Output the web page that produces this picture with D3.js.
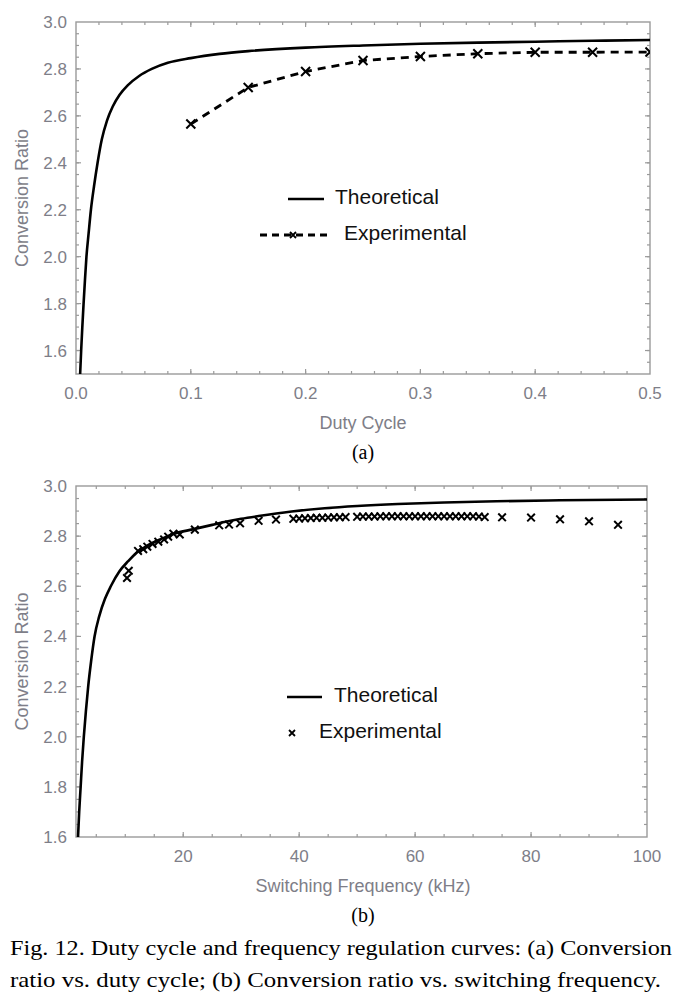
<!DOCTYPE html>
<html><head><meta charset="utf-8">
<script src="https://cdn.jsdelivr.net/npm/d3@7"></script>
<style>body{margin:0;background:#fff} svg{display:block}</style>
</head><body>
<svg id="c" width="684" height="1000"></svg>
<script>
// ---------- DATA ----------
// (a) Conversion ratio vs duty cycle
const dutyTheoX = [0.0036,0.0045,0.0055,0.0066,0.0078,0.0091,0.011,0.013,0.0157,0.0188,0.0225,0.027,0.032,0.038,0.045,0.055,0.066,0.08,0.1,0.125,0.15,0.2,0.25,0.3,0.35,0.4,0.45,0.5];
const dutyTheoY = [1.5,1.6,1.7,1.8,1.9,2.0,2.1,2.2,2.3,2.4,2.5,2.58,2.64,2.69,2.73,2.77,2.8,2.826,2.846,2.864,2.876,2.891,2.9,2.907,2.912,2.916,2.92,2.923];
const dutyExpX = [0.1,0.15,0.2,0.25,0.3,0.35,0.4,0.45,0.5];
const dutyExpY = [2.565,2.721,2.789,2.836,2.853,2.865,2.871,2.871,2.872];
const dutyTicks = [0.0,0.1,0.2,0.3,0.4,0.5];
const dutyTickLabels = ["0.0","0.1","0.2","0.3","0.4","0.5"];
const ratioTicksA = [1.6,1.8,2.0,2.2,2.4,2.6,2.8,3.0];
// (b) Conversion ratio vs switching frequency
const freqTheoX = [1.85,2.05,2.3,2.55,2.85,3.2,3.6,4.1,4.7,5.5,6.5,7.5,9,10.5,12,14,16,18.5,21.6,25,27.3,30,33,38.7,44.4,50,57,65,74,85,100];
const freqTheoY = [1.6,1.7,1.8,1.9,2.0,2.1,2.2,2.3,2.4,2.48,2.55,2.6,2.66,2.7,2.735,2.765,2.787,2.81,2.827,2.845,2.857,2.869,2.88,2.898,2.911,2.92,2.928,2.934,2.939,2.943,2.946];
const freqExpX = [10.3,10.6,12.2,13.1,13.8,14.7,15.7,16.7,17.4,18.3,19.4,22,26.2,27.9,29.8,33,36,
  39,40,41,42,43,44,45,46,47,48,
  50,51,52,53,54,55,56,57,58,59,60,61,62,63,64,65,66,67,68,69,70,71,72,
  75,80,85,90,95];
const freqExpY = [2.633,2.662,2.741,2.748,2.758,2.769,2.778,2.787,2.798,2.81,2.807,2.826,2.843,2.846,2.851,2.861,2.866,
  2.869,2.870,2.871,2.872,2.873,2.873,2.874,2.875,2.875,2.876,
  2.877,2.878,2.878,2.878,2.879,2.879,2.879,2.879,2.879,2.879,2.879,2.879,2.879,2.879,2.879,2.879,2.879,2.879,2.879,2.879,2.879,2.878,2.876,
  2.875,2.874,2.867,2.859,2.845];
const freqTicks = [20,40,60,80,100];
const freqTickLabels = ["20","40","60","80","100"];
const ratioTicksB = [1.6,1.8,2.0,2.2,2.4,2.6,2.8,3.0];
const legendLabels = ["Theoretical","Experimental"];
const captionLines = ["Fig. 12. Duty cycle and frequency regulation curves: (a) Conversion",
                      "ratio vs. duty cycle; (b) Conversion ratio vs. switching frequency."];

// ---------- DRAWING ----------
const svg = d3.select("#c");
const FRAME = "#9a9a9a", LABEL = "#7e7e88", SANS = "'Liberation Sans', Arial, sans-serif", SERIF = "'Liberation Serif','Times New Roman',serif";

function xMark(sel, s, w) {
  return sel.attr("d", `M${-s},${-s}L${s},${s}M${-s},${s}L${s},${-s}`)
    .attr("stroke", "#000").attr("stroke-width", w).attr("fill", "none");
}

function panel(cfg) {
  const x = d3.scaleLinear().domain(cfg.xDom).range([cfg.left, cfg.right]);
  const y = d3.scaleLinear().domain(cfg.yDom).range([cfg.bottom, cfg.top]);
  const g = svg.append("g");
  const id = "clip" + cfg.name;
  svg.append("defs").append("clipPath").attr("id", id).append("rect")
    .attr("x", cfg.left).attr("y", cfg.top).attr("width", cfg.right - cfg.left).attr("height", cfg.bottom - cfg.top);

  const mk = (scale, vals, len, side) => {
    vals.forEach(v => {
      const p = scale(v);
      if (side === "b") g.append("line").attr("x1", p).attr("x2", p).attr("y1", cfg.bottom).attr("y2", cfg.bottom - len);
      if (side === "t") g.append("line").attr("x1", p).attr("x2", p).attr("y1", cfg.top).attr("y2", cfg.top + len);
      if (side === "l") g.append("line").attr("y1", p).attr("y2", p).attr("x1", cfg.left).attr("x2", cfg.left + len);
      if (side === "r") g.append("line").attr("y1", p).attr("y2", p).attr("x1", cfg.right).attr("x2", cfg.right - len);
    });
  };
  const inside = (arr, dom) => arr.filter(v => v > dom[0] + 1e-9 && v < dom[1] - 1e-9);
  const xMaj = inside(cfg.xMajor, cfg.xDom), xMin = inside(cfg.xMinor, cfg.xDom);
  const yMaj = inside(cfg.yMajor, cfg.yDom), yMin = inside(cfg.yMinor, cfg.yDom);
  ["b","t"].forEach(s => { mk(x, xMaj, 5, s); mk(x, xMin, 3, s); });
  ["l","r"].forEach(s => { mk(y, yMaj, 5, s); mk(y, yMin, 3, s); });
  g.selectAll("line").attr("stroke", FRAME).attr("stroke-width", 1.2);
  g.append("rect").attr("x", cfg.left).attr("y", cfg.top).attr("width", cfg.right - cfg.left).attr("height", cfg.bottom - cfg.top)
    .attr("fill", "none").attr("stroke", FRAME).attr("stroke-width", 1.4);

  g.selectAll(".xl").data(cfg.xTicks).enter().append("text")
    .attr("x", (d) => x(d)).attr("y", cfg.bottom + 25).attr("text-anchor", "middle")
    .attr("font-family", SANS).attr("font-size", 17).attr("fill", LABEL)
    .text((d, i) => cfg.xTickLabels[i]);
  g.selectAll(".yl").data(cfg.yTicks).enter().append("text")
    .attr("x", cfg.left - 9).attr("y", d => y(d) + 6).attr("text-anchor", "end")
    .attr("font-family", SANS).attr("font-size", 17).attr("fill", LABEL)
    .text(d => d.toFixed(1));

  g.append("text").attr("x", 363).attr("y", cfg.bottom + 55).attr("text-anchor", "middle")
    .attr("font-family", SANS).attr("font-size", 18).attr("fill", LABEL).text(cfg.xTitle);
  g.append("text").attr("transform", `translate(28,${(cfg.top + cfg.bottom) / 2}) rotate(-90)`)
    .attr("text-anchor", "middle").attr("font-family", SANS).attr("font-size", 18).attr("fill", LABEL).text("Conversion Ratio");
  g.append("text").attr("x", 363).attr("y", cfg.bottom + 85).attr("text-anchor", "middle")
    .attr("font-family", SERIF).attr("font-size", 20).attr("fill", "#000").text(cfg.sub);

  const plot = svg.append("g").attr("clip-path", `url(#${id})`);
  const theo = cfg.theoX.map((v, i) => [v, cfg.theoY[i]]);
  plot.append("path").datum(theo)
    .attr("d", d3.line().x(d => x(d[0])).y(d => y(d[1])).curve(d3.curveMonotoneX))
    .attr("fill", "none").attr("stroke", "#000").attr("stroke-width", 2.6);
  const exp = cfg.expX.map((v, i) => [v, cfg.expY[i]]);
  if (cfg.dashed) {
    plot.append("path").datum(exp)
      .attr("d", d3.line().x(d => x(d[0])).y(d => y(d[1])))
      .attr("fill", "none").attr("stroke", "#000").attr("stroke-width", 2.8).attr("stroke-dasharray", "8,6");
  }
  plot.selectAll(".m").data(exp).enter().append("path")
    .attr("transform", d => `translate(${x(d[0])},${y(d[1])})`)
    .call(s => xMark(s, cfg.mSize, 2));

  const L = cfg.legend;
  svg.append("line").attr("x1", L.l1x[0]).attr("x2", L.l1x[1]).attr("y1", L.l1y).attr("y2", L.l1y)
    .attr("stroke", "#000").attr("stroke-width", 2.6);
  if (cfg.dashed) {
    svg.append("line").attr("x1", L.l2x[0]).attr("x2", L.l2x[1]).attr("y1", L.l2y).attr("y2", L.l2y)
      .attr("stroke", "#000").attr("stroke-width", 2.8).attr("stroke-dasharray", "7,5");
  }
  svg.append("path").attr("transform", `translate(${L.mx},${L.l2y})`).call(s => xMark(s, 3, 1.8));
  svg.append("text").attr("x", L.t1x).attr("y", L.l1y + 5).attr("font-family", SANS).attr("font-size", 21).attr("fill", "#111").text(legendLabels[0]);
  svg.append("text").attr("x", L.t2x).attr("y", L.l2y + 5).attr("font-family", SANS).attr("font-size", 21).attr("fill", "#111").text(legendLabels[1]);
}

panel({
  name: "a", left: 76, right: 650, top: 22, bottom: 374,
  xDom: [0, 0.5], yDom: [1.5, 3.0],
  xMajor: dutyTicks, xMinor: d3.range(0, 0.5001, 0.02), yMajor: ratioTicksA, yMinor: d3.range(1.5, 3.0001, 0.05),
  xTicks: dutyTicks, xTickLabels: dutyTickLabels, yTicks: ratioTicksA,
  xTitle: "Duty Cycle", sub: "(a)",
  theoX: dutyTheoX, theoY: dutyTheoY, expX: dutyExpX, expY: dutyExpY,
  dashed: true, mSize: 4.5,
  legend: { l1x: [288, 324], l1y: 199, t1x: 335, l2x: [260, 327], l2y: 235, mx: 293, t2x: 344 }
});

panel({
  name: "b", left: 76, right: 647, top: 486, bottom: 837,
  xDom: [1.5, 100], yDom: [1.6, 3.0],
  xMajor: freqTicks, xMinor: d3.range(5, 100, 5), yMajor: ratioTicksB, yMinor: d3.range(1.6, 3.0001, 0.05),
  xTicks: freqTicks, xTickLabels: freqTickLabels, yTicks: ratioTicksB,
  xTitle: "Switching Frequency (kHz)", sub: "(b)",
  theoX: freqTheoX, theoY: freqTheoY, expX: freqExpX, expY: freqExpY,
  dashed: false, mSize: 3.8,
  legend: { l1x: [287, 322], l1y: 697, t1x: 334, l2y: 733, mx: 292, t2x: 319 }
});

svg.selectAll(".cap").data(captionLines).enter().append("text")
  .attr("x", 10).attr("y", (d, i) => 955 + i * 32)
  .attr("font-family", SERIF).attr("font-size", 22).attr("fill", "#000")
  .attr("textLength", (d, i) => i === 0 ? 662 : 651).attr("lengthAdjust", "spacingAndGlyphs")
  .text(d => d);
</script>
</body></html>
